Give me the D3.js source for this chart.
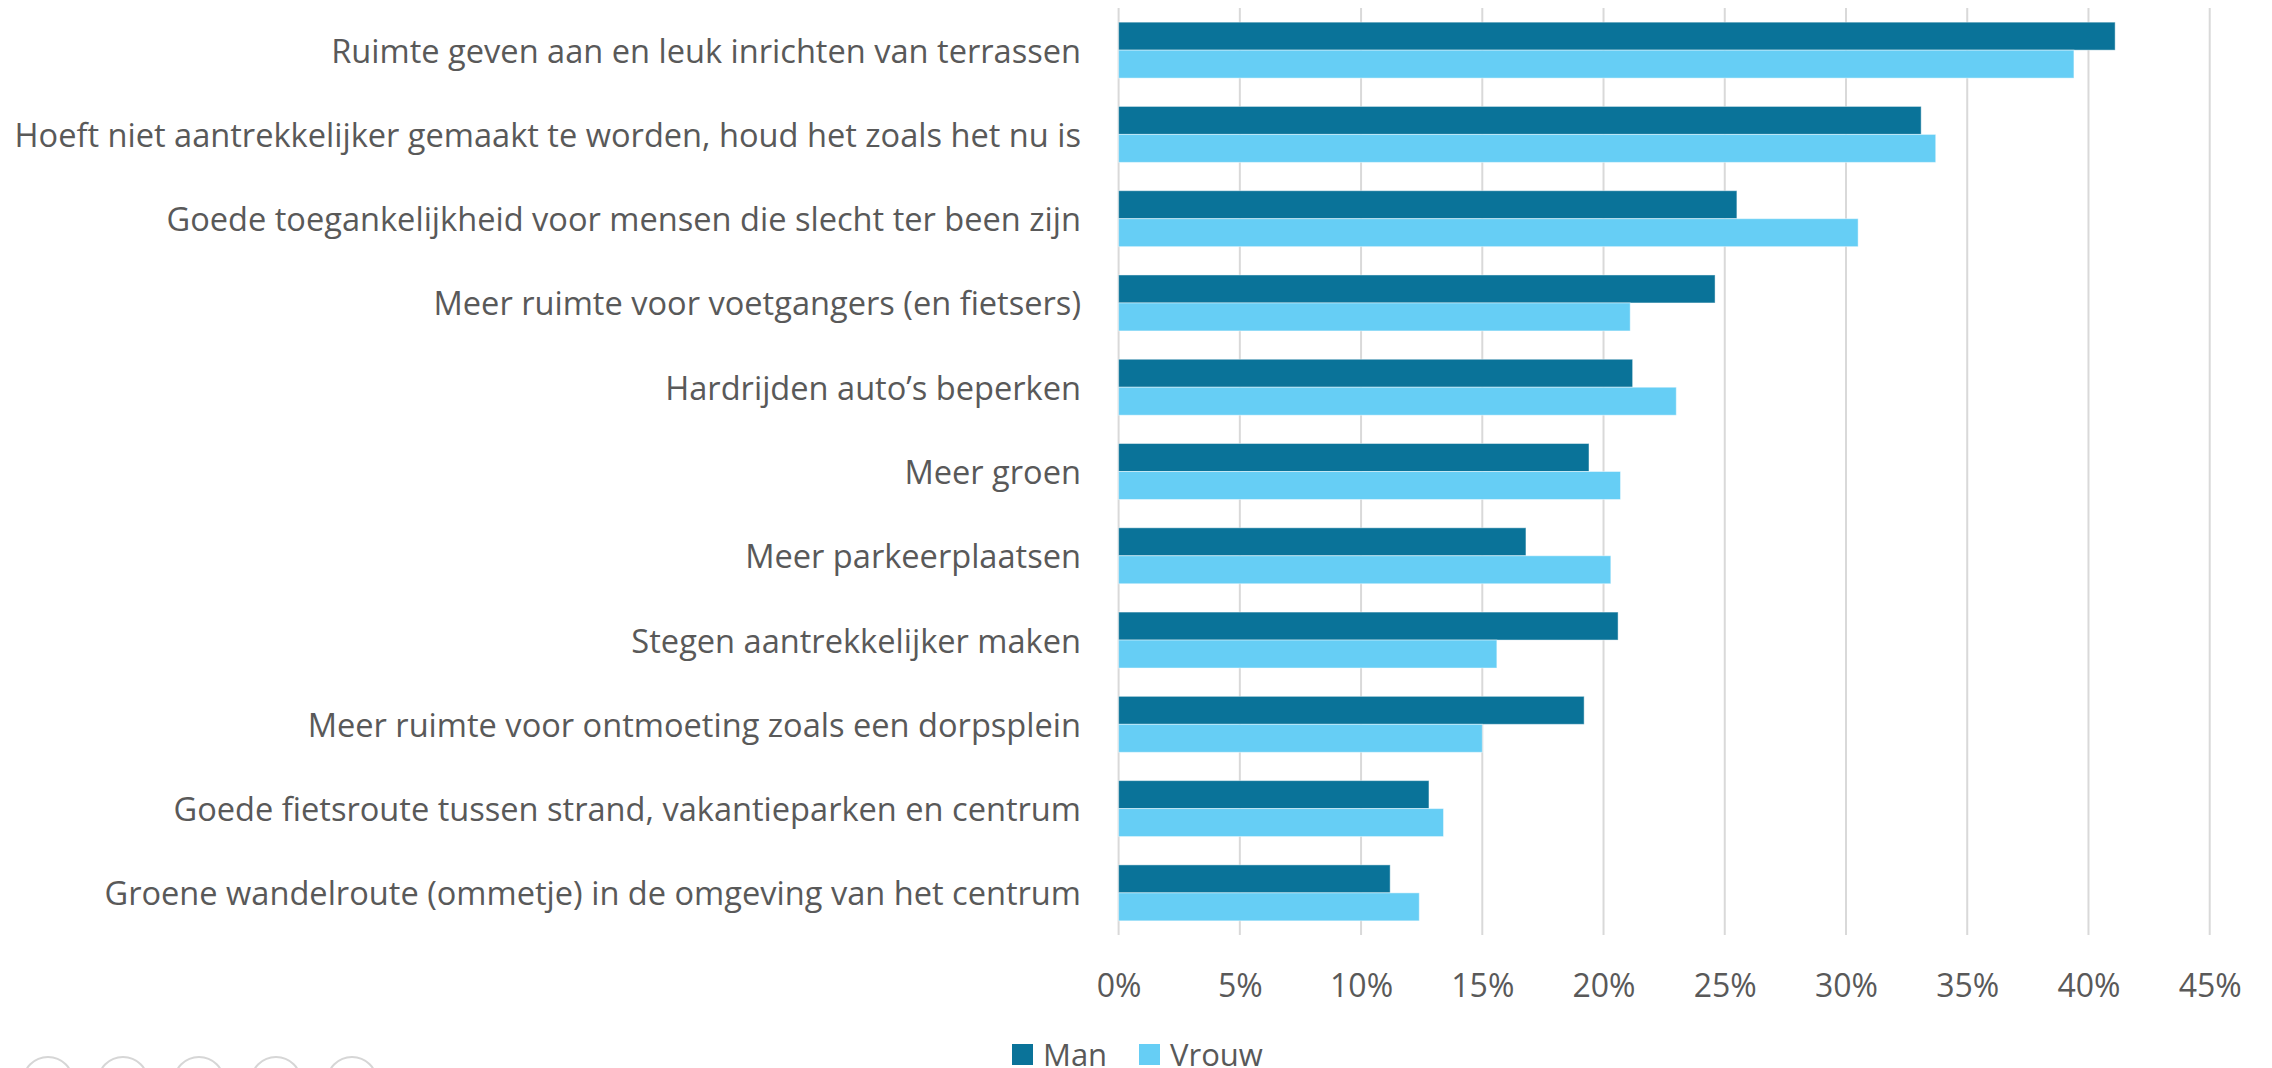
<!DOCTYPE html>
<html>
<head>
<meta charset="utf-8">
<script src="https://cdn.jsdelivr.net/npm/d3@7"></script>
<style>
  html, body { margin: 0; padding: 0; background: #ffffff; }
  svg { display: block; }
  text { font-family: "Open Sans", "Noto Sans", sans-serif; fill: #595959; }
</style>
</head>
<body>
<svg id="chart" width="2272" height="1068"></svg>
<script>
// Wensen voor het centrum, uitgesplitst naar geslacht (aandeel respondenten)
const categories = [
  "Ruimte geven aan en leuk inrichten van terrassen",
  "Hoeft niet aantrekkelijker gemaakt te worden, houd het zoals het nu is",
  "Goede toegankelijkheid voor mensen die slecht ter been zijn",
  "Meer ruimte voor voetgangers (en fietsers)",
  "Hardrijden auto’s beperken",
  "Meer groen",
  "Meer parkeerplaatsen",
  "Stegen aantrekkelijker maken",
  "Meer ruimte voor ontmoeting zoals een dorpsplein",
  "Goede fietsroute tussen strand, vakantieparken en centrum",
  "Groene wandelroute (ommetje) in de omgeving van het centrum"
];
const seriesNames = ["Man", "Vrouw"];
const manValues   = [41.1, 33.1, 25.5, 24.6, 21.2, 19.4, 16.8, 20.6, 19.2, 12.8, 11.2];
const vrouwValues = [39.4, 33.7, 30.5, 21.1, 23.0, 20.7, 20.3, 15.6, 15.0, 13.4, 12.4];
const tickValues  = [0, 5, 10, 15, 20, 25, 30, 35, 40, 45];
const seriesColors = ["#0A7399", "#66CEF5"];

const svg = d3.select("#chart");

const plot = { left: 1118.6, right: 2209.7, top: 8, bottom: 935 };

const x = d3.scaleLinear().domain([0, 45]).range([plot.left, plot.right]);
const y = d3.scaleBand().domain(categories).range([plot.top, plot.bottom])
  .paddingInner(0.336).paddingOuter(0.168);
const ySub = d3.scaleBand().domain(seriesNames).range([0, y.bandwidth()]);

// verticale rasterlijnen
svg.append("g").selectAll("line").data(tickValues).join("line")
  .attr("x1", d => x(d)).attr("x2", d => x(d))
  .attr("y1", plot.top).attr("y2", plot.bottom)
  .attr("stroke", "#d9d9d9").attr("stroke-width", 2);

// staven per categorie
const rows = categories.map((c, i) => ({ cat: c, vals: [manValues[i], vrouwValues[i]] }));
const groups = svg.append("g").selectAll("g").data(rows).join("g")
  .attr("transform", d => `translate(0,${y(d.cat)})`);
groups.selectAll("rect").data(d => d.vals.map((v, j) => ({ v, s: seriesNames[j], j })))
  .join("rect")
  .attr("x", x(0))
  .attr("y", d => ySub(d.s))
  .attr("width", d => x(d.v) - x(0))
  .attr("height", ySub.bandwidth())
  .attr("fill", d => seriesColors[d.j])
  .attr("stroke", "rgba(255,255,255,0.45)")
  .attr("stroke-width", 1);

// categorie-labels
svg.append("g").selectAll("text").data(categories).join("text")
  .attr("x", 1081)
  .attr("y", d => y(d) + y.bandwidth() / 2)
  .attr("text-anchor", "end")
  .attr("dominant-baseline", "central")
  .attr("font-size", 32.6)
  .text(d => d);

// x-as labels
const xAxis = d3.axisBottom(x).tickValues(tickValues).tickFormat(d => d + "%").tickSize(0);
const ax = svg.append("g").attr("transform", `translate(0,${plot.bottom})`).call(xAxis);
ax.select(".domain").remove();
ax.selectAll("text")
  .attr("y", 51).attr("dy", "0.35em")
  .attr("font-size", 32)
  .style("font-family", "\"Open Sans\", sans-serif")
  .attr("fill", "#595959");

// legenda
const legend = svg.append("g");
const legendX = [1012, 1139];
seriesNames.forEach((s, j) => {
  legend.append("rect").attr("x", legendX[j]).attr("y", 1044)
    .attr("width", 21).attr("height", 21).attr("fill", seriesColors[j]);
  legend.append("text").attr("x", legendX[j] + 31).attr("y", 1054)
    .attr("dominant-baseline", "central").attr("font-size", 31).text(s);
});

// navigatiebolletjes onderaan
const dots = [48, 123, 199, 276, 352];
svg.append("g").selectAll("circle").data(dots).join("circle")
  .attr("cx", d => d).attr("cy", 1082).attr("r", 25)
  .attr("fill", "none").attr("stroke", "#d6d6d6").attr("stroke-width", 2);
</script>
</body>
</html>
